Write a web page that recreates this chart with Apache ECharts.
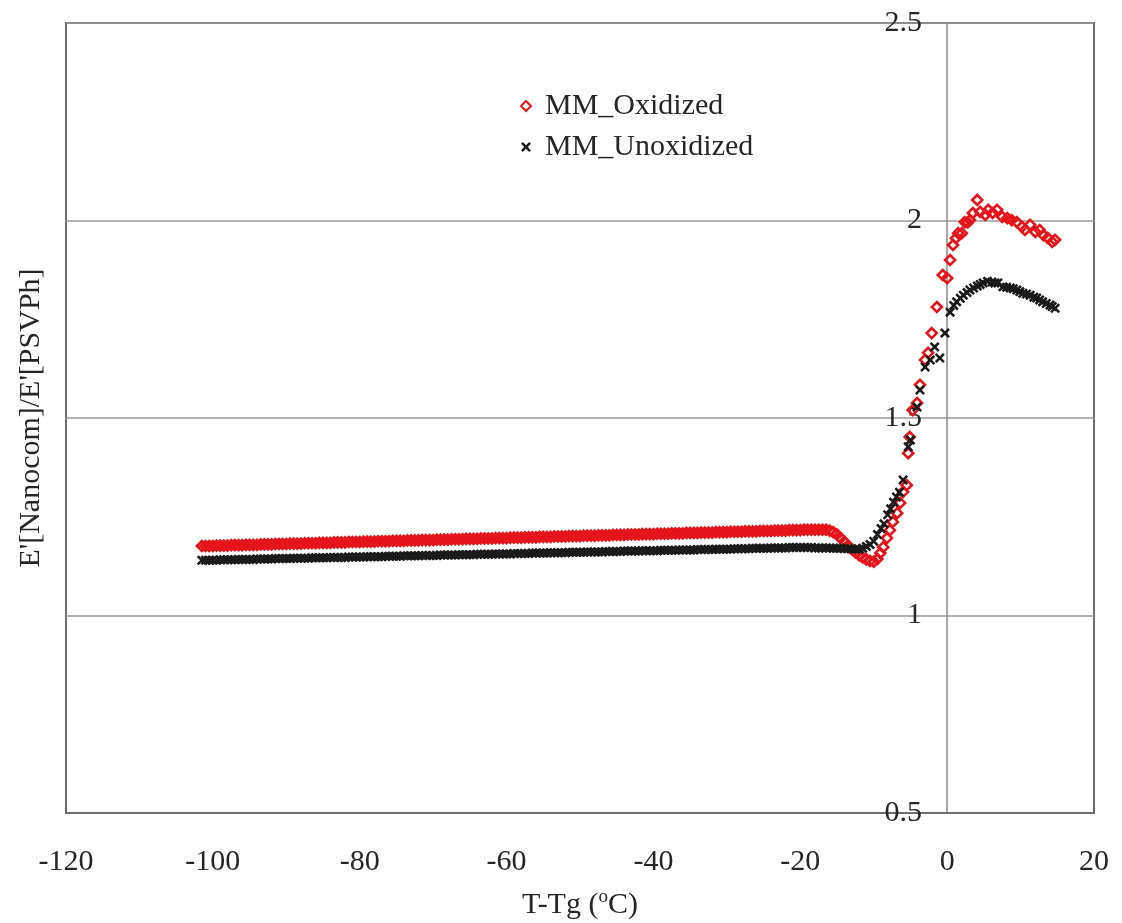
<!DOCTYPE html>
<html>
<head>
<meta charset="utf-8">
<script src="https://cdn.jsdelivr.net/npm/echarts@6/dist/echarts.min.js"></script>
<style>
html,body{margin:0;padding:0;background:#fff;}
#chart{width:1122px;height:923px;}
</style>
</head>
<body>
<div id="chart"></div>
<script>
// ---- data ----
var X_TICKS = [-120, -100, -80, -60, -40, -20, 0, 20];
var Y_TICKS = [0.5, 1, 1.5, 2, 2.5];
var SERIES_NAMES = ['MM_Oxidized', 'MM_Unoxidized'];

// dense plateau region (both series share these temperatures)
var FLAT_T = [
-101.5,-101,-100.5,-100,-99.5,-99,-98.5,-98,-97.5,-97,-96.5,-96,-95.5,-95,-94.5,-94,-93.5,-93,-92.5,-92,
-91.5,-91,-90.5,-90,-89.5,-89,-88.5,-88,-87.5,-87,-86.5,-86,-85.5,-85,-84.5,-84,-83.5,-83,-82.5,-82,
-81.5,-81,-80.5,-80,-79.5,-79,-78.5,-78,-77.5,-77,-76.5,-76,-75.5,-75,-74.5,-74,-73.5,-73,-72.5,-72,
-71.5,-71,-70.5,-70,-69.5,-69,-68.5,-68,-67.5,-67,-66.5,-66,-65.5,-65,-64.5,-64,-63.5,-63,-62.5,-62,
-61.5,-61,-60.5,-60,-59.5,-59,-58.5,-58,-57.5,-57,-56.5,-56,-55.5,-55,-54.5,-54,-53.5,-53,-52.5,-52,
-51.5,-51,-50.5,-50,-49.5,-49,-48.5,-48,-47.5,-47,-46.5,-46,-45.5,-45,-44.5,-44,-43.5,-43,-42.5,-42,
-41.5,-41,-40.5,-40,-39.5,-39,-38.5,-38,-37.5,-37,-36.5,-36,-35.5,-35,-34.5,-34,-33.5,-33,-32.5,-32,
-31.5,-31,-30.5,-30,-29.5,-29,-28.5,-28,-27.5,-27,-26.5,-26,-25.5,-25,-24.5,-24,-23.5,-23,-22.5,-22,
-21.5,-21,-20.5,-20,-19.5,-19,-18.5,-18,-17.5,-17,-16.5
];
var RED_FLAT = [
1.176,1.176,1.176,1.176,1.177,1.177,1.177,1.177,
1.178,1.178,1.178,1.178,1.179,1.179,1.179,1.179,
1.180,1.180,1.180,1.180,1.181,1.181,1.181,1.181,
1.182,1.182,1.182,1.182,1.183,1.183,1.183,1.183,
1.184,1.184,1.184,1.184,1.185,1.185,1.185,1.185,
1.186,1.186,1.186,1.186,1.187,1.187,1.187,1.187,
1.188,1.188,1.188,1.188,1.189,1.189,1.189,1.189,
1.190,1.190,1.190,1.190,1.191,1.191,1.191,1.191,
1.192,1.192,1.192,1.192,1.193,1.193,1.193,1.193,
1.194,1.194,1.194,1.194,1.195,1.195,1.195,1.195,
1.196,1.196,1.196,1.196,1.197,1.197,1.197,1.197,
1.198,1.198,1.198,1.198,1.199,1.199,1.199,1.199,
1.200,1.200,1.200,1.200,1.201,1.201,1.201,1.201,
1.202,1.202,1.202,1.202,1.203,1.203,1.203,1.203,
1.204,1.204,1.204,1.204,1.205,1.205,1.205,1.205,
1.206,1.206,1.206,1.206,1.207,1.207,1.207,1.207,
1.208,1.208,1.208,1.208,1.209,1.209,1.209,1.209,
1.210,1.210,1.210,1.210,1.211,1.211,1.211,1.211,
1.212,1.212,1.212,1.212,1.213,1.213,1.213,1.213,
1.214,1.214,1.214,1.214,1.215,1.215,1.215,1.215,
1.216,1.216,1.216,1.216,1.217,1.217,1.217,1.217,
1.217,1.217,1.217
];
var BLACK_FLAT = [
1.140,1.140,1.140,1.140,1.140,1.141,1.141,1.141,1.141,1.141,
1.142,1.142,1.142,1.142,1.142,1.143,1.143,1.143,1.143,1.143,
1.144,1.144,1.144,1.144,1.144,1.145,1.145,1.145,1.145,1.145,
1.146,1.146,1.146,1.146,1.146,1.147,1.147,1.147,1.147,1.147,
1.148,1.148,1.148,1.148,1.148,1.149,1.149,1.149,1.149,1.149,
1.150,1.150,1.150,1.150,1.150,1.151,1.151,1.151,1.151,1.151,
1.152,1.152,1.152,1.152,1.152,1.153,1.153,1.153,1.153,1.153,
1.154,1.154,1.154,1.154,1.154,1.155,1.155,1.155,1.155,1.155,
1.156,1.156,1.156,1.156,1.156,1.157,1.157,1.157,1.157,1.157,
1.158,1.158,1.158,1.158,1.158,1.159,1.159,1.159,1.159,1.159,
1.160,1.160,1.160,1.160,1.160,1.161,1.161,1.161,1.161,1.161,
1.162,1.162,1.162,1.162,1.162,1.163,1.163,1.163,1.163,1.163,
1.164,1.164,1.164,1.164,1.164,1.165,1.165,1.165,1.165,1.165,
1.166,1.166,1.166,1.166,1.166,1.167,1.167,1.167,1.167,1.167,
1.168,1.168,1.168,1.168,1.168,1.169,1.169,1.169,1.169,1.169,
1.170,1.170,1.170,1.170,1.170,1.171,1.171,1.171,1.171,1.171,
1.172,1.172,1.172,1.172,1.172,
1.172,1.172,1.171,1.171,1.171,1.171
];

// transition and rubbery region (sparser points)
var RED_T = [-16,-15.5,-15,-14.5,-14,-13.5,-13,-12.5,-12,-11.5,-11,-10.5,-10,-9.5,-9.1,-8.7,-8.2,-7.8,-7.4,-6.8,
-6.4,-6,-5.5,-5.3,-5.1,-4.7,-4.1,-3.7,-3,-2.6,-2.1,-1.4,-0.6,0,0.4,0.8,1.2,1.5,2,2.4,
2.8,3.1,3.5,4.1,4.5,5.2,5.6,6.2,6.8,7.5,8.2,8.8,9.5,10.2,10.6,11.3,12,12.6,13.1,13.7,
14.3,14.7];
var RED_V = [1.215,1.211,1.205,1.196,1.187,1.177,1.168,1.160,1.153,1.147,1.142,1.138,1.136,1.143,1.158,1.173,1.196,1.216,1.237,1.259,
1.285,1.313,1.330,1.411,1.452,1.520,1.538,1.584,1.647,1.665,1.715,1.781,1.862,1.854,1.900,1.938,1.955,1.968,1.968,1.996,
1.995,2.001,2.019,2.052,2.022,2.014,2.027,2.019,2.027,2.009,2.006,2.001,1.996,1.984,1.976,1.989,1.971,1.976,1.963,1.956,
1.946,1.951];

var BLACK_T = [-16,-15.5,-15,-14.5,-14,-13.5,-13,-12.5,-12,-11.5,-11,-10.5,-10,-9.5,-9,-8.6,-8.1,-7.7,-7.3,-6.9,
-6.5,-6,-5.3,-5,-4.1,-3.7,-3,-2.3,-1.7,-1,-0.3,0.4,0.9,1.3,1.8,2.2,2.7,3.1,3.6,4.1,
4.5,4.9,5.5,6.1,6.5,6.9,7.6,8.1,8.6,9,9.5,9.9,10.3,10.8,11.3,11.8,12.2,12.6,13,13.5,
14,14.3,14.7];
var BLACK_V = [1.171,1.170,1.170,1.170,1.169,1.169,1.169,1.168,1.168,1.170,1.175,1.180,1.188,1.205,1.220,1.232,1.255,1.270,1.287,1.300,
1.312,1.343,1.427,1.444,1.528,1.571,1.629,1.647,1.680,1.652,1.715,1.768,1.785,1.794,1.803,1.811,1.818,1.824,1.829,1.834,
1.838,1.842,1.846,1.844,1.842,1.842,1.832,1.831,1.829,1.827,1.824,1.820,1.816,1.814,1.811,1.806,1.804,1.799,1.794,1.790,
1.786,1.782,1.778];

// ---- build series data ----
function zip(t, v) { var out = []; for (var i = 0; i < t.length; i++) out.push([t[i], v[i]]); return out; }
var redData = zip(FLAT_T, RED_FLAT).concat(zip(RED_T, RED_V));
var blackData = zip(FLAT_T, BLACK_FLAT).concat(zip(BLACK_T, BLACK_V));

var SERIF = "'Liberation Serif', 'Times New Roman', 'DejaVu Serif', serif";
var RED = '#e5141b';
var BLK = '#1a1a1a';
var TXT = '#262626';
var CROSS = 'path://M0,1.8L1.8,0L5,3.2L8.2,0L10,1.8L6.8,5L10,8.2L8.2,10L5,6.8L1.8,10L0,8.2L3.2,5Z';

var GRID_LEFT = 66, GRID_W = 1028;
// pixel distance from the grid's left edge to x = 0 (used to slide the y axis onto x = 0)
var Y_AXIS_SHIFT = Math.round(GRID_W * (0 - X_TICKS[0]) / (X_TICKS[X_TICKS.length - 1] - X_TICKS[0]));

var chart = echarts.init(document.getElementById('chart'), null, {renderer: 'canvas'});
chart.setOption({
  backgroundColor: '#ffffff',
  animation: false,
  grid: {
    left: GRID_LEFT, top: 23, width: GRID_W, height: 790,
    containLabel: false,
    outerBoundsMode: 'none',
    show: true, borderColor: '#6e6e6e', borderWidth: 2, backgroundColor: 'transparent'
  },
  legend: {
    orient: 'vertical',
    left: 515, top: 86,
    itemWidth: 10, itemHeight: 10,
    itemGap: 11,
    data: SERIES_NAMES,
    textStyle: {fontFamily: SERIF, fontSize: 30, color: TXT, padding: [0, 0, 0, 9]}
  },
  xAxis: {
    type: 'value',
    min: X_TICKS[0], max: X_TICKS[X_TICKS.length - 1], interval: 20,
    name: '{n|T-Tg (}{s|o}{n|C)}',
    nameLocation: 'middle',
    nameGap: 73,
    nameTextStyle: {
      rich: {
        n: {fontFamily: SERIF, fontSize: 30, color: TXT, lineHeight: 34, verticalAlign: 'bottom'},
        s: {fontFamily: SERIF, fontSize: 19, color: TXT, lineHeight: 20, verticalAlign: 'bottom', padding: [0, 0, 13, 0]}
      }
    },
    axisLine: {show: true, onZero: false, lineStyle: {color: '#6e6e6e', width: 2}},
    axisTick: {show: false},
    splitLine: {show: false},
    axisLabel: {
      fontFamily: SERIF, fontSize: 30, color: TXT, margin: 34,
      showMinLabel: true, showMaxLabel: true,
      formatter: function (v) { return X_TICKS.indexOf(v) >= 0 ? String(v) : ''; }
    }
  },
  yAxis: {
    type: 'value',
    min: Y_TICKS[0], max: Y_TICKS[Y_TICKS.length - 1], interval: 0.5,
    offset: -Y_AXIS_SHIFT,
    name: "E'[Nanocom]/E'[PSVPh]",
    nameLocation: 'middle',
    nameGap: Y_AXIS_SHIFT + 20,
    nameRotate: 90,
    nameTextStyle: {fontFamily: SERIF, fontSize: 30, color: TXT},
    axisLine: {show: true, onZero: false, lineStyle: {color: '#8a8a8a', width: 1.5}},
    axisTick: {show: false},
    splitLine: {show: true, lineStyle: {color: '#9a9a9a', width: 1.5}},
    axisLabel: {
      fontFamily: SERIF, fontSize: 30, color: TXT, margin: 25,
      showMinLabel: true, showMaxLabel: true,
      formatter: function (v) { return Y_TICKS.indexOf(v) >= 0 ? String(v) : ''; }
    }
  },
  series: [
    {
      name: SERIES_NAMES[0],
      type: 'scatter',
      data: redData,
      symbol: 'diamond',
      symbolSize: 10,
      itemStyle: {color: 'rgba(255,255,255,0)', borderColor: RED, borderWidth: 2.6, opacity: 1},
      z: 2
    },
    {
      name: SERIES_NAMES[1],
      type: 'scatter',
      data: blackData,
      symbol: CROSS,
      symbolSize: 10,
      itemStyle: {color: BLK, opacity: 1},
      z: 3
    }
  ]
});
</script>
</body>
</html>
